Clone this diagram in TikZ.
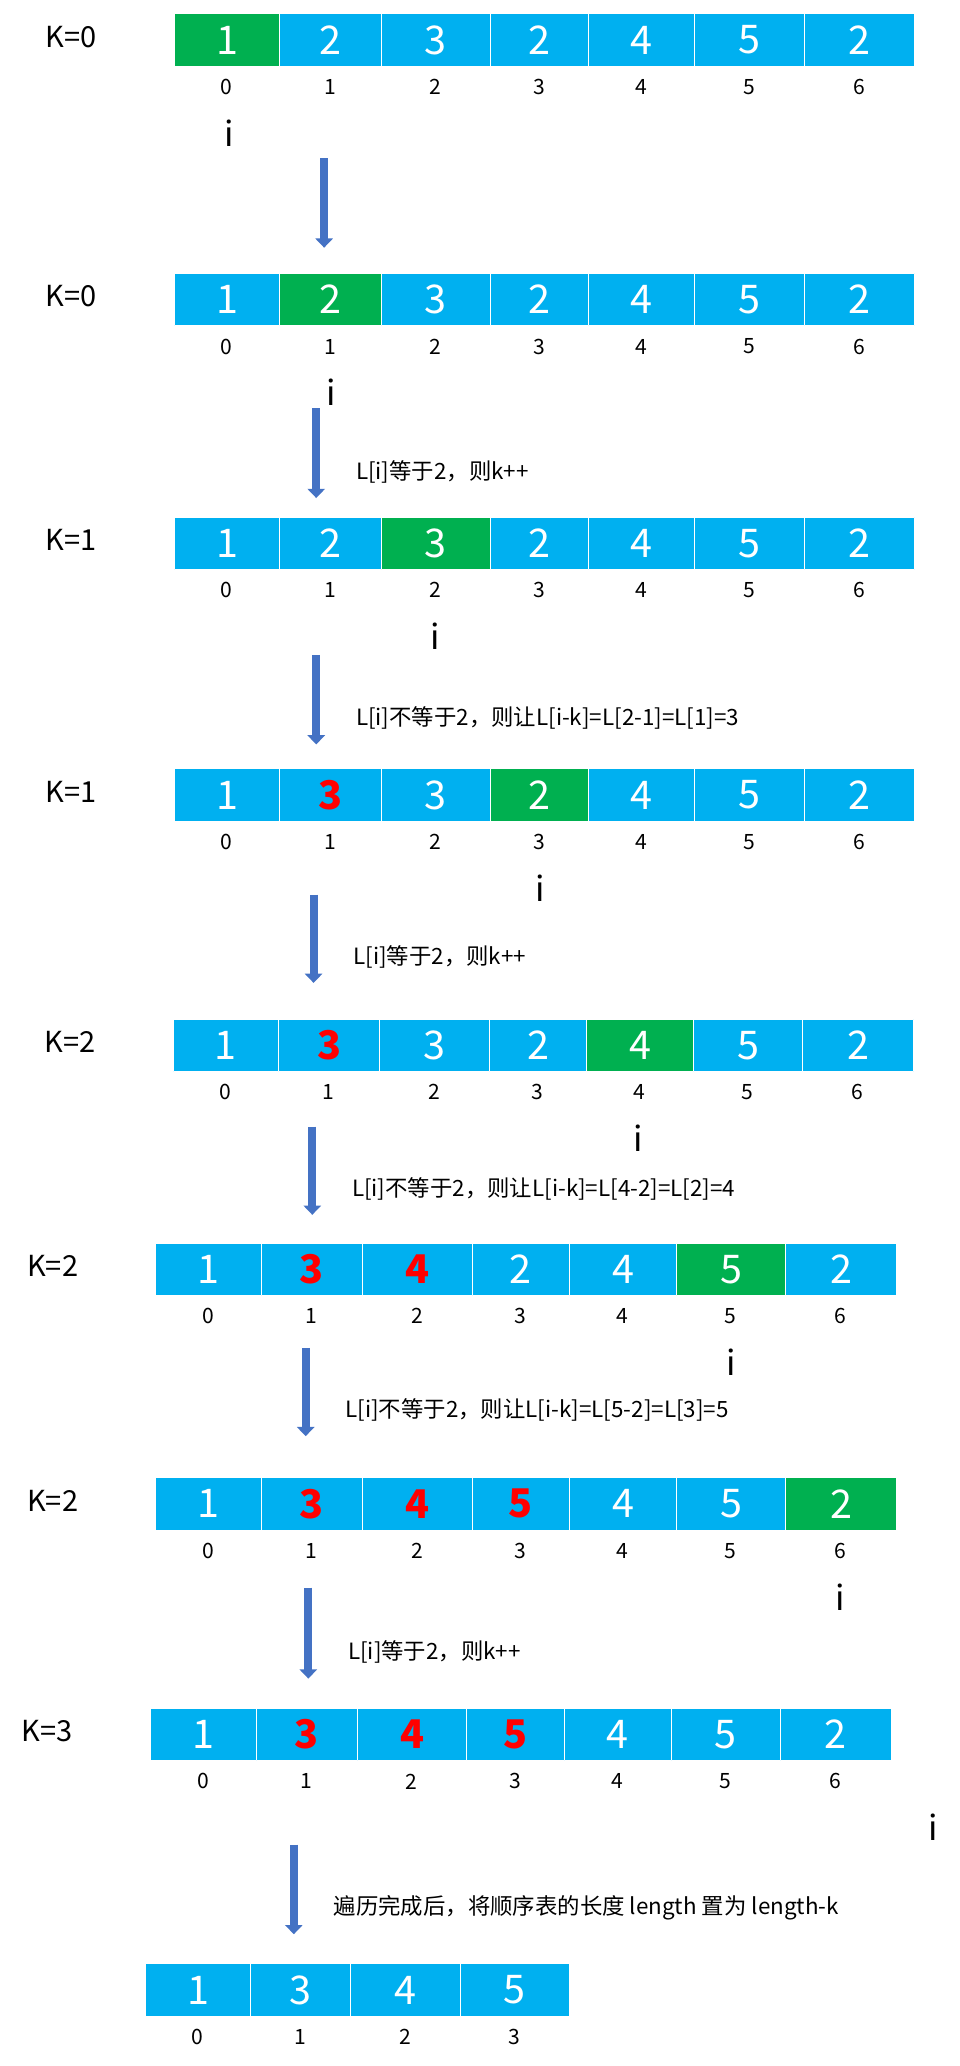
\documentclass[tikz,border=0pt]{standalone}
\usepackage{fontspec}
\setmainfont{Noto Sans CJK SC}
\usetikzlibrary{arrows.meta}

\definecolor{fillb}{RGB}{0,176,240}
\definecolor{fillg}{RGB}{0,176,80}
\definecolor{fillr}{RGB}{0,176,240}
\colorlet{textb}{white}
\colorlet{textg}{white}
\definecolor{textr}{RGB}{255,0,0}
\definecolor{arrowblue}{RGB}{68,114,196}

\begin{document}
\begin{tikzpicture}[x=1pt, y=-1pt, line join=round,
	cell/.style={draw=white, line width=0.6pt, fill=fill#1, text=text#1, inner sep=0pt,
		anchor=north west, minimum height=40pt, font=\fontsize{30}{30}\selectfont},
	idx/.style={inner sep=0pt, font=\fontsize{16}{16}\selectfont},
	klabel/.style={inner sep=0pt, font=\fontsize{22}{22}\selectfont},
	ptr/.style={inner sep=0pt, font=\fontsize{26}{26}\selectfont},
	msg/.style={anchor=west, inner sep=0pt, font=\fontsize{17}{17}\selectfont},
	flow/.style={arrowblue, line width=6pt, -{Triangle[width=13pt, length=7pt]}}]
	\useasboundingbox (0, 0) rectangle (728, 1568);

	% Các dãy phần tử
	\foreach \r/\dx/\top/\edges/\vals in {
		1/132/10/{0,80,157,240,314,395,478,562}/{g/1,b/2,b/3,b/2,b/4,b/5,b/2},
		2/132/207/{0,80,157,240,314,395,478,562}/{b/1,g/2,b/3,b/2,b/4,b/5,b/2},
		3/132/392/{0,80,157,240,314,395,478,562}/{b/1,b/2,g/3,b/2,b/4,b/5,b/2},
		4/132/583/{0,80,157,240,314,395,478,562}/{b/1,r/\textbf{3},b/3,g/2,b/4,b/5,b/2},
		5/131/773/{0,80,157,240,314,395,478,562}/{b/1,r/\textbf{3},b/3,b/2,g/4,b/5,b/2},
		6/118/943/{0,80,157,240,314,395,478,562}/{b/1,r/\textbf{3},r/\textbf{4},b/2,b/4,g/5,b/2},
		7/118/1121/{0,80,157,240,314,395,478,562}/{b/1,r/\textbf{3},r/\textbf{4},r/\textbf{5},b/4,b/5,g/2},
		8/114/1296/{0,80,157,240,314,395,478,562}/{b/1,r/\textbf{3},r/\textbf{4},r/\textbf{5},b/4,b/5,b/2},
		9/110/1490/{0,80,156,239,322}/{b/1,b/3,b/4,b/5}} {
		\foreach \sty/\val [count=\n from 0] in \vals {
			\pgfmathsetmacro\xa{\dx+{\edges}[\n]}
			\pgfmathsetmacro\xb{\dx+{\edges}[\n+1]}
			\pgfmathsetmacro\w{\xb-\xa}
			\pgfmathsetmacro\xm{(\xa+\xb)/2}
			\node[cell=\sty, minimum width=\w pt] (a\r-\n) at (\xa, \top) {\val};
			\node[idx] (n\r-\n) at (\xm, \top+56) {\n};
		}
	}

	% Giá trị K và con trỏ i
	\foreach \r/\dx/\top/\k/\i in {1/132/10/0/0, 2/132/207/0/1, 3/132/392/1/2, 4/132/583/1/3,
		5/131/773/2/4, 6/118/943/2/5, 7/118/1121/2/6, 8/114/1296/3/7} {
		\node[klabel] (k\r) at (\dx-78, \top+18) {K=\k};
		\pgfmathsetmacro\xi{\dx+{42,119,198,278,353,437,520,594}[\i]}
		\node[ptr] (i\r) at (\xi, \top+91) {i};
	}

	% Mũi tên và chú thích
	\coordinate (s1) at (246, 120);
	\coordinate (e1) at (246, 188);
	\draw[flow] (s1) -- (e1);
	\foreach \r/\ax/\ys/\ye/\txt in {
		2/240/310/378/{L[i]等于2，则k++},
		3/240/497/565/{L[i]不等于2，则让L[i-k]=L[2-1]=L[1]=3},
		4/238/679/746/{L[i]等于2，则k++},
		5/237/855/922/{L[i]不等于2，则让L[i-k]=L[4-2]=L[2]=4},
		6/232/1023/1090/{L[i]不等于2，则让L[i-k]=L[5-2]=L[3]=5},
		7/234/1205/1274/{L[i]等于2，则k++},
		8/223/1400/1468/{遍历完成后，将顺序表的长度 length 置为 length-k}} {
		\coordinate (s\r) at (\ax, \ys);
		\coordinate (e\r) at (\ax, \ye);
		\draw[flow] (s\r) -- (e\r);
		\node[msg] (m\r) at (\ax+30, \ye-20) {\txt};
	}
\end{tikzpicture}
\end{document}
